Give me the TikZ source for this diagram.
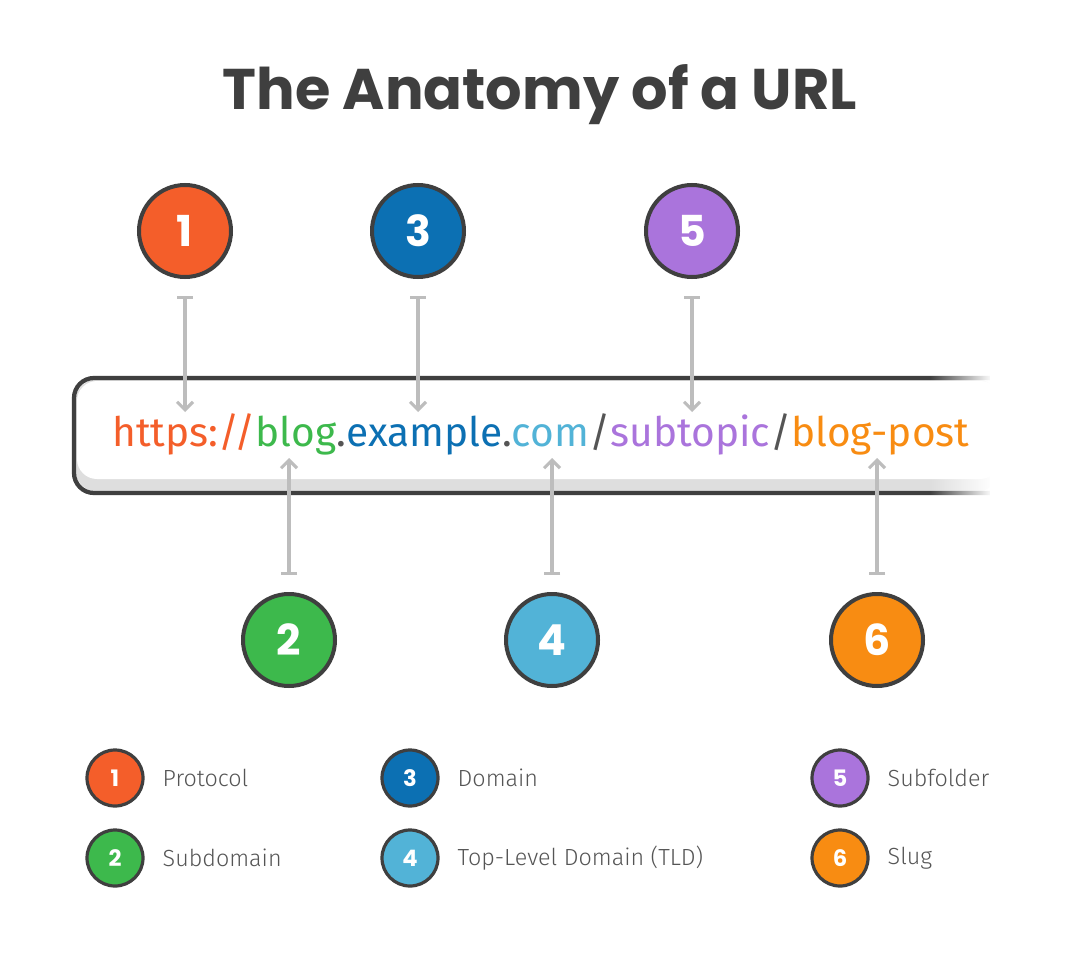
\documentclass[tikz,border=0pt]{standalone}
\usepackage{fontspec}
\setmainfont{Fira Sans}
\newfontfamily\titlefont{Poppins Bold}
\newfontfamily\numfont{Poppins Bold}
\newfontfamily\lightfont{Fira Sans Light}
\usetikzlibrary{fadings,arrows.meta}
\definecolor{cP}{HTML}{F45E2A}
\definecolor{cS}{HTML}{3DB94C}
\definecolor{cD}{HTML}{0C70B3}
\definecolor{cT}{HTML}{52B3D7}
\definecolor{cF}{HTML}{AA74DC}
\definecolor{cG}{HTML}{F88C12}
\definecolor{dark}{HTML}{3F3F3F}
\definecolor{arr}{HTML}{BDBDBD}
\definecolor{sep}{HTML}{555555}
\tikzset{
 bigc/.style={circle,draw=dark,line width=3pt,minimum size=69pt,inner sep=0pt,text=white,font=\numfont\fontsize{32}{32}\selectfont},
 smallc/.style={circle,draw=dark,line width=2.4pt,minimum size=42pt,inner sep=0pt,text=white,font=\numfont\fontsize{17}{17}\selectfont},
 lab/.style={anchor=west,text=sep,font=\lightfont\fontsize{17.5}{17.5}\selectfont},
 pt/.style={draw=arr,line width=2.3pt,{Bar[width=12pt,line width=2.3pt]}-{Straight Barb[length=6pt,width=12pt,line width=2.3pt]}}
}
\begin{document}
\begin{tikzpicture}[x=0.75pt,y=-0.75pt]
\useasboundingbox (0,0) rectangle (1080,952);
\fill[white] (0,0) rectangle (1080,952);
\node[text=dark,font=\titlefont\fontsize{43}{43}\selectfont] (title) at (540,95) {The Anatomy of a URL};
% url box
\fill[black!13,rounded corners=20pt] (1000,378) -- (74,378) -- (74,493) -- (1000,493) -- cycle;
\fill[white,rounded corners=15pt] (1000,381) -- (77,381) -- (77,479) -- (1000,479) -- cycle;
\draw[dark,line width=3.2pt,rounded corners=15pt] (1000,378) -- (74,378) -- (74,493) -- (1000,493);
\fill[white,path fading=west] (930,370) rectangle (992,500);
\fill[white] (990,370) rectangle (1010,500);
\node[anchor=base west,inner sep=0pt,font=\fontsize{30.5}{31}\selectfont] (url) at (112,446) {\textcolor{cP}{https://}\textcolor{cS}{blog}\textcolor{sep}{.}\textcolor{cD}{example}\textcolor{sep}{.}\textcolor{cT}{com}\textcolor{sep}{/}\textcolor{cF}{subtopic}\textcolor{sep}{/}\textcolor{cG}{blog-post}};
% big circles
\node[bigc,fill=cP] (n1) at (185,231) {1};
\node[bigc,fill=cD] (n3) at (418,231) {3};
\node[bigc,fill=cF] (n5) at (692,231) {5};
\node[bigc,fill=cS] (n2) at (289,640) {2};
\node[bigc,fill=cT] (n4) at (552,640) {4};
\node[bigc,fill=cG] (n6) at (877,640) {6};
\coordinate (t1) at (185,296); \coordinate (e1) at (185,412);
\coordinate (t3) at (418,296); \coordinate (e3) at (418,412);
\coordinate (t5) at (692,296); \coordinate (e5) at (692,412);
\coordinate (t2) at (289,575); \coordinate (e2) at (289,458);
\coordinate (t4) at (552,575); \coordinate (e4) at (552,458);
\coordinate (t6) at (877,575); \coordinate (e6) at (877,458);
\foreach \i in {1,...,6} \draw[pt] (t\i) -- (e\i);
% legend
\node[smallc,fill=cP] (l1) at (115,778) {1};
\node[smallc,fill=cS] (l2) at (115,858) {2};
\node[smallc,fill=cD] (l3) at (410,778) {3};
\node[smallc,fill=cT] (l4) at (410,858) {4};
\node[smallc,fill=cF] (l5) at (840,778) {5};
\node[smallc,fill=cG] (l6) at (840,858) {6};
\node[lab] (d1) at (158,778) {Protocol};
\node[lab] (d2) at (158,858) {Subdomain};
\node[lab] (d3) at (453,778) {Domain};
\node[lab] (d4) at (453,858) {Top-Level Domain (TLD)};
\node[lab] (d5) at (883,778) {Subfolder};
\node[lab] (d6) at (883,858) {Slug};
\end{tikzpicture}
\end{document}
